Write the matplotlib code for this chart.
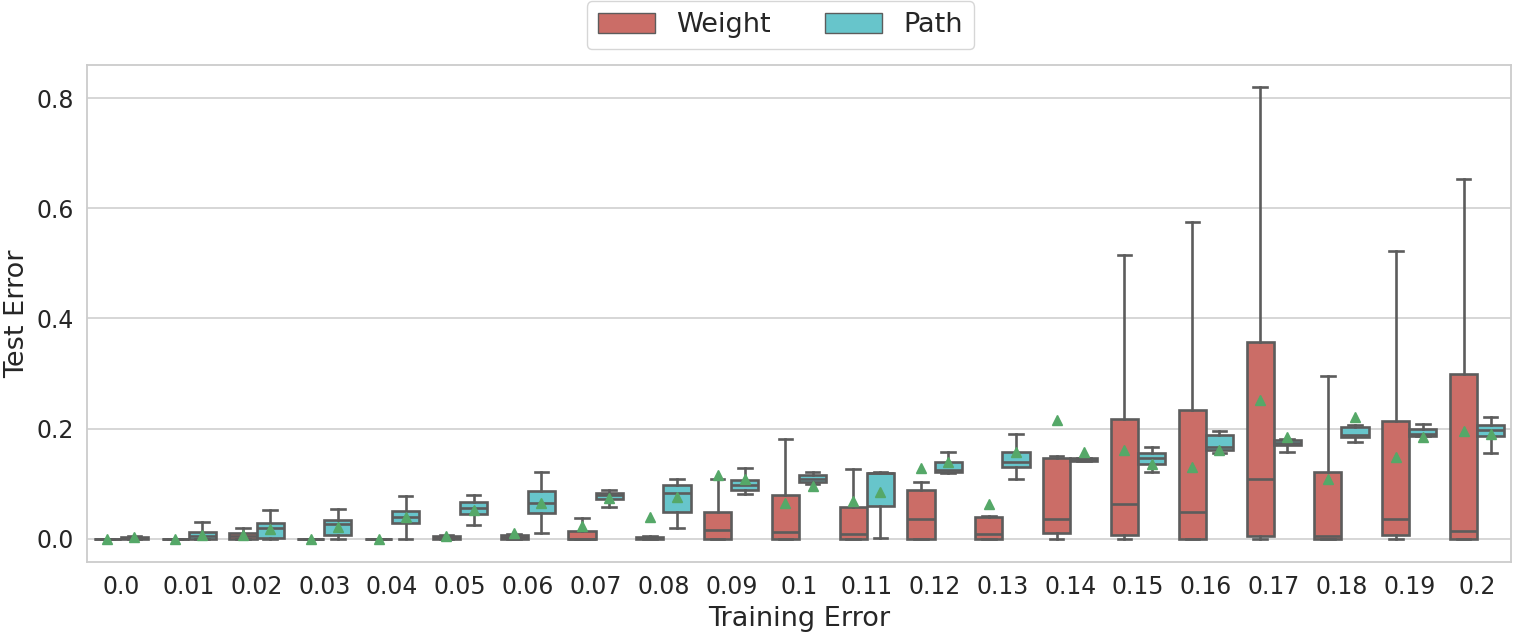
import matplotlib
matplotlib.use("Agg")
import matplotlib.pyplot as plt
from matplotlib.patches import Patch

categories = ['0.0', '0.01', '0.02', '0.03', '0.04', '0.05', '0.06', '0.07', '0.08', '0.09', '0.1',
              '0.11', '0.12', '0.13', '0.14', '0.15', '0.16', '0.17', '0.18', '0.19', '0.2']

# Weight series summary statistics
w_lo = [0, 0, 0, 0, 0, 0, 0, 0, 0, 0, 0, 0, 0, 0, 0, 0, 0, 0, 0, 0, 0]
w_q1 = [0, 0, 0, 0, 0, 0, 0, 0, 0, 0, 0, 0, 0, 0, 0.0115, 0.007, 0, 0.0055, 0, 0.007, 0]
w_med = [0, 0, 0.006, 0, 0, 0.002, 0.003, 0.0, 0.001, 0.016, 0.013, 0.009, 0.036, 0.0085, 0.036,
         0.064, 0.0495, 0.109, 0.0055, 0.036, 0.015]
w_q3 = [0, 0, 0.011, 0, 0, 0.005, 0.007, 0.015, 0.004, 0.049, 0.079, 0.057, 0.088, 0.039, 0.146,
        0.217, 0.2335, 0.358, 0.122, 0.2146, 0.300]
w_hi = [0, 0, 0.019, 0, 0, 0.007, 0.008, 0.037, 0.005, 0.108, 0.181, 0.127, 0.103, 0.042, 0.150,
        0.516, 0.575, 0.8205, 0.296, 0.5225, 0.6536]
w_mean = [0, 0, 0.007, 0, 0, 0.006, 0.010, 0.024, 0.039, 0.115, 0.065, 0.068, 0.128, 0.063, 0.215,
          0.161, 0.130, 0.252, 0.108, 0.149, 0.1965]

# Path series summary statistics
p_lo = [0, 0, 0, 0, 0, 0.026, 0.011, 0.057, 0.019, 0.082, 0.099, 0.002, 0.119, 0.109, 0.141,
        0.1215, 0.156, 0.158, 0.176, 0.186, 0.155]
p_q1 = [0, 0, 0.001, 0.007, 0.028, 0.045, 0.047, 0.072, 0.049, 0.089, 0.103, 0.059, 0.121, 0.130,
        0.142, 0.1355, 0.1615, 0.1705, 0.185, 0.187, 0.1875]
p_med = [0.002, 0.005, 0.019, 0.027, 0.039, 0.056, 0.065, 0.079, 0.083, 0.098, 0.109, 0.119, 0.125,
         0.140, 0.144, 0.146, 0.1675, 0.1745, 0.189, 0.190, 0.198]
p_q3 = [0.004, 0.013, 0.028, 0.035, 0.051, 0.066, 0.086, 0.083, 0.0985, 0.1075, 0.115, 0.120, 0.140,
        0.157, 0.146, 0.155, 0.188, 0.180, 0.2035, 0.200, 0.207]
p_hi = [0.005, 0.030, 0.053, 0.055, 0.078, 0.080, 0.122, 0.089, 0.109, 0.129, 0.122, 0.122, 0.158,
        0.190, 0.147, 0.166, 0.1965, 0.181, 0.207, 0.209, 0.222]
p_mean = [0.003, 0.007, 0.018, 0.021, 0.039, 0.053, 0.065, 0.074, 0.076, 0.108, 0.096, 0.085, 0.139,
          0.157, 0.157, 0.1355, 0.162, 0.185, 0.221, 0.1845, 0.190]

series_names = ['Weight', 'Path']
series_colors = ['#CB6D67', '#67C5CB']
line_color = '#5C5C5C'
mean_color = '#55A868'
text_color = '#262626'

DPI = 100
fig = plt.figure(figsize=(15.15, 6.33), dpi=DPI)
ax = fig.add_axes([87 / 1515, 1 - 562 / 633, (1511 - 87) / 1515, (562 - 65) / 633])


def make_stats(lo, q1, med, q3, hi, mean):
    return [dict(whislo=a, q1=b, med=c, q3=d, whishi=e, mean=f, fliers=[])
            for a, b, c, d, e, f in zip(lo, q1, med, q3, hi, mean)]


all_stats = [make_stats(w_lo, w_q1, w_med, w_q3, w_hi, w_mean),
             make_stats(p_lo, p_q1, p_med, p_q3, p_hi, p_mean)]
offsets = [-0.2, 0.2]
lw = 1.9
for stats, off, col in zip(all_stats, offsets, series_colors):
    pos = [i + off for i in range(len(categories))]
    ax.bxp(stats, positions=pos, widths=0.4, patch_artist=True, showmeans=True, showfliers=False,
           boxprops=dict(facecolor=col, edgecolor=line_color, linewidth=lw),
           medianprops=dict(color=line_color, linewidth=lw),
           whiskerprops=dict(color=line_color, linewidth=lw),
           capprops=dict(color=line_color, linewidth=lw),
           meanprops=dict(marker='^', markerfacecolor=mean_color, markeredgecolor=mean_color,
                          markersize=6.8), zorder=2)

ax.set_xlim(-0.5, len(categories) - 0.5)
ax.set_ylim(-0.042, 0.86)
ax.set_xticks(range(len(categories)))
ax.set_xticklabels(categories)
ax.set_yticks([0.0, 0.2, 0.4, 0.6, 0.8])
ax.set_yticklabels(['0.0', '0.2', '0.4', '0.6', '0.8'])
ax.tick_params(axis='both', length=0, labelsize=17, labelcolor=text_color, pad=9.5)
ax.yaxis.grid(True, color='#CCCCCC', linewidth=1.1, zorder=0)
ax.xaxis.grid(False)
ax.set_axisbelow(True)
for sp in ax.spines.values():
    sp.set_color('#CCCCCC')
    sp.set_linewidth(1.3)
ax.set_xlabel('Training Error', fontsize=19.5, color=text_color, labelpad=5)
ax.set_ylabel('Test Error', fontsize=19.5, color=text_color, labelpad=4.5)

handles = [Patch(facecolor=c, edgecolor=line_color, linewidth=1.0, label=n)
           for n, c in zip(series_names, series_colors)]
leg = fig.legend(handles=handles, loc='upper center', bbox_to_anchor=(780.5 / 1515, 1 - 1.5 / 633),
                 ncol=2, fontsize=19.5, frameon=True, handlelength=2.1, handleheight=0.74,
                 columnspacing=2.0, borderpad=0.4, borderaxespad=0)
leg.get_frame().set_edgecolor('#CCCCCC')
for t in leg.get_texts():
    t.set_color(text_color)

fig.savefig('out.png', dpi=DPI)
